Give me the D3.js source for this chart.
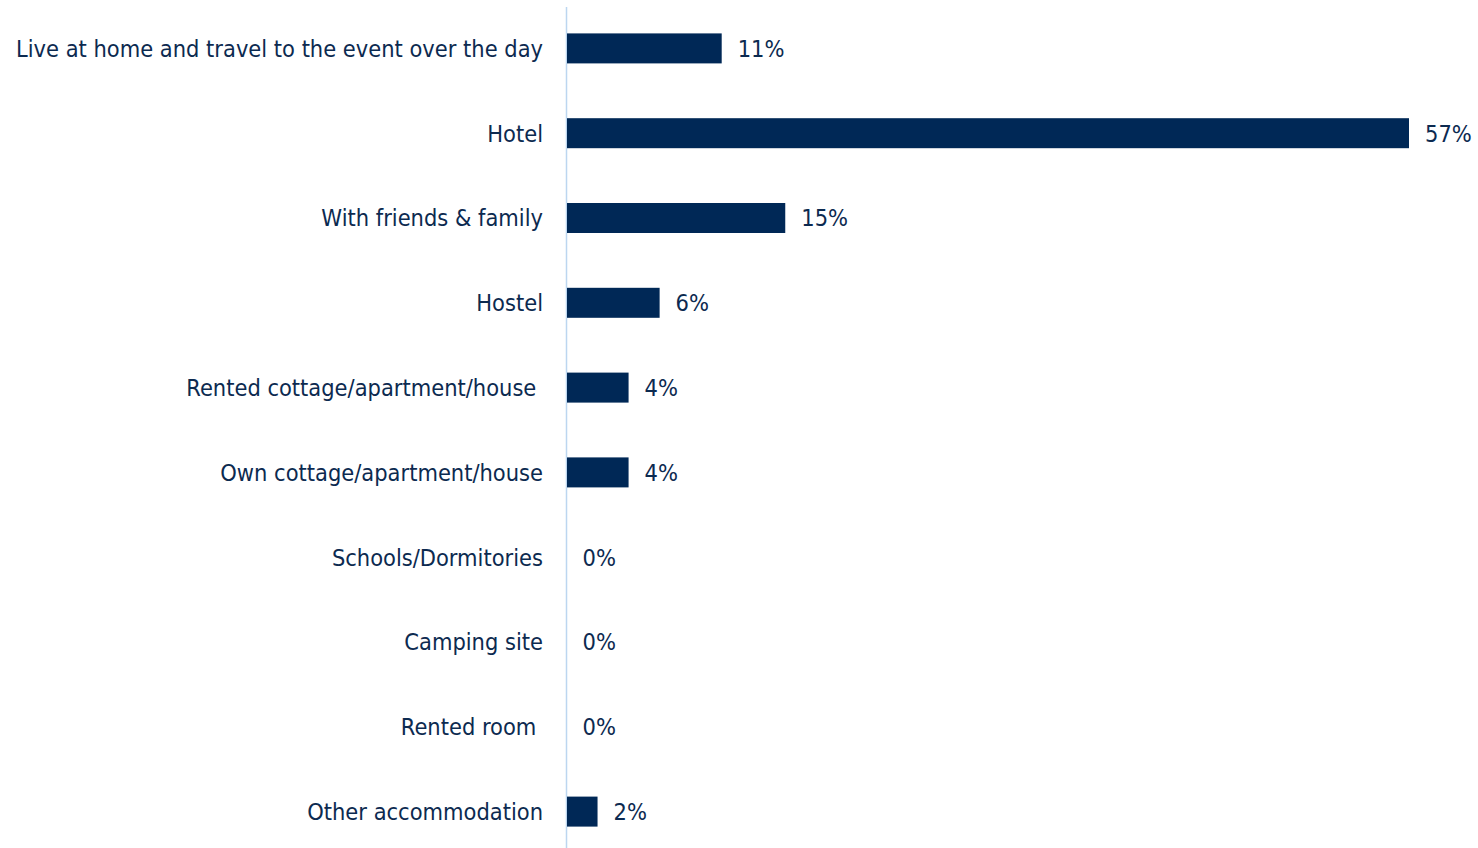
<!DOCTYPE html>
<html>
<head>
<meta charset="utf-8">
<script src="https://cdn.jsdelivr.net/npm/d3@7"></script>
<style>
  body { margin: 0; background: #fff; }
  text { white-space: pre; }
</style>
</head>
<body>
<script>
// accommodation categories, top to bottom
const categories = [
  "Live at home and travel to the event over the day",
  "Hotel",
  "With friends & family",
  "Hostel",
  "Rented cottage/apartment/house ",
  "Own cottage/apartment/house",
  "Schools/Dormitories",
  "Camping site",
  "Rented room ",
  "Other accommodation"
];
// share of respondents, %
const shares = [10.5, 57, 14.8, 6.3, 4.2, 4.2, 0, 0, 0, 2.1];

const width = 1478, height = 848;
const navy = "#002856", textCol = "#0c2a50";
const fontSize = 23.4;

const svg = d3.select("body").append("svg")
    .attr("width", width)
    .attr("height", height);

const x = d3.scaleLinear().domain([0, 57]).range([566.5, 1409]);
const y = d3.scalePoint().domain(categories).range([6, 854]).padding(0.5);
const barH = 30;

// vertical axis line
svg.append("line")
    .attr("x1", x(0)).attr("x2", x(0))
    .attr("y1", 7).attr("y2", height)
    .attr("stroke", "#bcd6f0")
    .attr("stroke-width", 1.5);

const rows = svg.selectAll(".row")
    .data(categories.map((c, i) => ({cat: c, v: shares[i]})))
    .enter().append("g")
    .attr("class", "row")
    .attr("transform", d => "translate(0," + y(d.cat) + ")");

rows.filter(d => d.v > 0).append("rect")
    .attr("x", x(0) + 0.5)
    .attr("y", -barH / 2)
    .attr("width", d => x(d.v) - x(0) - 0.5)
    .attr("height", barH)
    .attr("fill", navy);

rows.append("text")
    .attr("x", 543)
    .attr("dy", "0.36em")
    .attr("text-anchor", "end")
    .attr("font-family", "DejaVu Sans Condensed")
    .attr("font-size", fontSize)
    .attr("fill", textCol)
    .text(d => d.cat);

rows.append("text")
    .attr("x", d => x(d.v) + 16)
    .attr("dy", "0.36em")
    .attr("font-family", "DejaVu Sans Condensed")
    .attr("font-size", fontSize)
    .attr("fill", textCol)
    .text(d => Math.round(d.v) + "%");
</script>
</body>
</html>
